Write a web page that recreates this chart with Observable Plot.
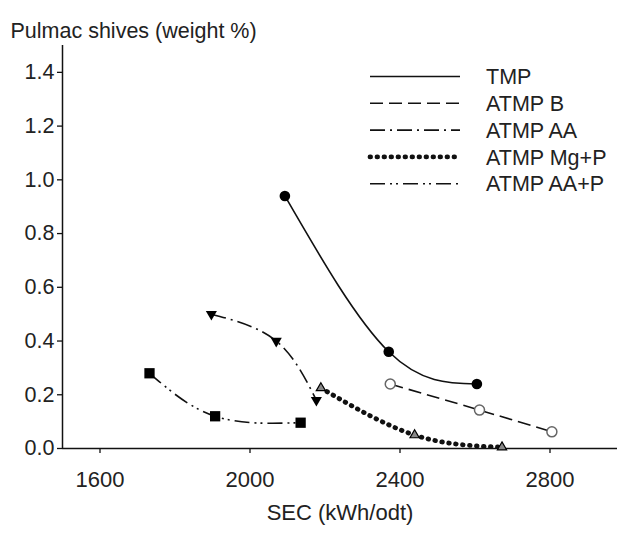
<!DOCTYPE html>
<html><head><meta charset="utf-8">
<script src="https://cdn.jsdelivr.net/npm/d3@7"></script>
<script src="https://cdn.jsdelivr.net/npm/@observablehq/plot@0.6"></script>
<style>
body{margin:0;background:#fff;}
#chart svg{display:block;}
</style></head><body><div id="chart"></div>
<script>
// ---- data ----
const seriesNames = ["TMP", "ATMP B", "ATMP AA", "ATMP Mg+P", "ATMP AA+P"];
const tmpSEC = [2093, 2370, 2605];
const tmpShives = [0.94, 0.36, 0.24];
const atmpBSEC = [2374, 2612, 2805];
const atmpBShives = [0.24, 0.143, 0.062];
const atmpAASEC = [1897, 2070, 2177];
const atmpAAShives = [0.50, 0.40, 0.18];
const atmpMgPSEC = [2189, 2439, 2672];
const atmpMgPShives = [0.225, 0.05, 0.005];
const atmpAAPSEC = [1732, 1907, 2135];
const atmpAAPShives = [0.28, 0.12, 0.096];
const xTicks = [1600, 2000, 2400, 2800];
const yTicks = [0, 0.2, 0.4, 0.6, 0.8, 1.0, 1.2, 1.4];
const yTitle = "Pulmac shives (weight %)";
const xTitle = "SEC (kWh/odt)";

// ---- styling ----
const FONT = "'Liberation Sans', Arial, Helvetica, sans-serif";
const FS = 21.5;
const FSX = 22;
const styles = {
  "TMP":       {dash: null,              width: 1.6, cap: "butt"},
  "ATMP B":    {dash: "13,6",            width: 1.6, cap: "butt"},
  "ATMP AA":   {dash: "15,5,2,5",        width: 1.6, cap: "butt"},
  "ATMP Mg+P": {dash: "0.6,6.4",         width: 4.8, cap: "round"},
  "ATMP AA+P": {dash: "15,5,2,4,2,5",    width: 1.6, cap: "butt"}
};
const mk = (name, xs, ys) => xs.map((x, i) => ({series: name, sec: x, shives: ys[i]}));
const tmp = mk(seriesNames[0], tmpSEC, tmpShives);
const atB = mk(seriesNames[1], atmpBSEC, atmpBShives);
const atAA = mk(seriesNames[2], atmpAASEC, atmpAAShives);
const atMg = mk(seriesNames[3], atmpMgPSEC, atmpMgPShives);
const atAAP = mk(seriesNames[4], atmpAAPSEC, atmpAAPShives);
const all = [tmp, atB, atAA, atMg, atAAP];

const lineMark = (d) => {
  const s = styles[d[0].series];
  return Plot.line(d, {x: "sec", y: "shives", curve: "natural", stroke: "#111",
    strokeWidth: s.width, strokeDasharray: s.dash, strokeLinecap: s.cap, clip: true});
};

// legend drawn as a custom render mark
function legend(index, scales, values, dims) {
  const g = d3.create("svg:g").attr("font-family", FONT).attr("font-size", FS)
    .attr("fill", "#222").attr("text-anchor", "start");
  seriesNames.forEach((name, i) => {
    const s = styles[name];
    const y = 76.5 + i * 26.8;
    g.append("line").attr("x1", 370).attr("x2", 460).attr("y1", y).attr("y2", y)
      .attr("stroke", "#111").attr("stroke-width", s.width)
      .attr("stroke-dasharray", s.dash).attr("stroke-linecap", s.cap);
    g.append("text").attr("x", 486).attr("y", y).attr("dy", "0.36em").text(name);
  });
  return g.node();
}

const chart = Plot.plot({
  width: 617,
  height: 534,
  marginLeft: 62,
  marginRight: 0,
  marginTop: 45,
  marginBottom: 86,
  style: {fontFamily: FONT, fontSize: FS + "px", color: "#222", background: "#fff"},
  x: {domain: [1500, 2980]},
  y: {domain: [0, 1.5]},
  marks: [
    Plot.axisX({ticks: xTicks, tickFormat: d => String(d), tickSize: 5, tickPadding: 18, fontSize: FSX, label: null, stroke: "#111", strokeWidth: 1.3}),
    Plot.axisY({ticks: yTicks, tickFormat: d3.format(".1f"), tickSize: 5, tickPadding: 3, fontSize: FS, label: null, stroke: "#111", strokeWidth: 1.3}),
    ...all.map(lineMark),
    Plot.ruleY([0], {stroke: "#111", strokeWidth: 1.5}),
    Plot.ruleX([1500], {stroke: "#111", strokeWidth: 1.5}),
    Plot.dot(tmp, {x: "sec", y: "shives", symbol: "circle", r: 5.3, fill: "#000", stroke: null}),
    Plot.dot(atB, {x: "sec", y: "shives", symbol: "circle", r: 5, fill: "#fff", stroke: "#666", strokeWidth: 1.5}),
    Plot.dot(atAA, {x: "sec", y: "shives", symbol: "triangle2", r: 5.3, rotate: 180, fill: "#000", stroke: null}),
    Plot.dot(atMg, {x: "sec", y: "shives", symbol: "triangle2", r: 4.4, fill: "#888", stroke: "#000", strokeWidth: 1.2}),
    Plot.dot(atAAP, {x: "sec", y: "shives", symbol: "square", r: 5.8, fill: "#000", stroke: null}),
    Plot.text([yTitle], {frameAnchor: "top-left", text: d => d, dx: -52, dy: -23, textAnchor: "start", fontSize: FS, fill: "#222"}),
    Plot.text([xTitle], {frameAnchor: "bottom", text: d => d, dy: 71, fontSize: FSX, fill: "#222"}),
    legend
  ]
});
document.getElementById("chart").append(chart);
</script>
</body></html>
